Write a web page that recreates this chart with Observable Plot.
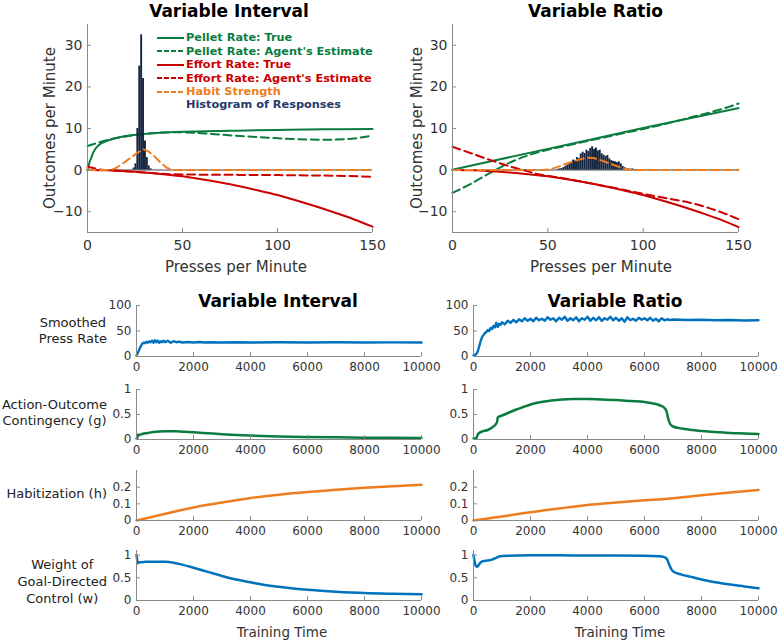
<!DOCTYPE html>
<html><head><meta charset="utf-8">
<script src="https://cdn.jsdelivr.net/npm/d3@7"></script>
<script src="https://cdn.jsdelivr.net/npm/@observablehq/plot@0.6"></script>
<style>
body{margin:0;background:#fff;}
#root{position:relative;width:779px;height:640px;font-family:"DejaVu Sans",sans-serif;overflow:hidden;background:#fff;}
.t{position:absolute;white-space:nowrap;}
.legrow{display:flex;align-items:center;height:13.46px;font-weight:bold;font-size:11.3px;white-space:nowrap;}
.legrow svg{margin-right:2px;}
</style></head>
<body><div id="root"></div>
<script>
// ---------- data: top panels (x = presses per minute, y = outcomes per minute) ----------
const viPelletTrue = [[0,0],[1,1.8],[2,3.0],[3,4.2],[5,5.6],[8,6.6],[12,7.3],[17,7.9],[22,8.3],[28,8.6],[35,8.85],[50,9.2],[75,9.45],[100,9.65],[125,9.8],[150,9.9]];
const viPelletEst = [[0,5.8],[5,6.5],[10,7.2],[15,7.7],[20,8.1],[28,8.6],[35,8.9],[45,9.1],[55,9.0],[65,8.7],[80,8.2],[95,7.8],[110,7.45],[125,7.3],[135,7.4],[142,7.7],[150,8.3]];
const viEffortTrue = [[0,0],[10,-0.05],[20,-0.25],[30,-0.55],[40,-1.0],[50,-1.5],[60,-2.2],[70,-3.0],[80,-3.9],[90,-4.9],[100,-6.0],[110,-7.3],[120,-8.7],[130,-10.2],[140,-11.8],[150,-13.6]];
const viEffortEst = [[0,0.8],[3,0.5],[6,0.2],[10,0.0],[20,-0.3],[30,-0.6],[45,-1.0],[60,-1.1],[80,-1.15],[100,-1.2],[120,-1.3],[135,-1.4],[150,-1.6]];
const viHabit = [[0,0],[12,0],[15,0.5],[18,1.4],[21,2.4],[24,3.4],[27,4.4],[29.5,5.0],[32,4.5],[35,3.4],[38,2.0],[41,0.8],[44,0.1],[46,0],[150,0]];
const viHistBins = [24,25,26,27,28,29,30,31,32,33];
const viHistCounts = [0.5,1.5,10,25,32.5,22,7,3,1,0.3];

const vrPelletTrue = [[0,0.1],[50,5.1],[100,10.1],[150,14.9]];
const vrPelletEst = [[0,-5.5],[10,-3.2],[20,-0.6],[30,1.8],[40,3.6],[50,4.9],[60,5.9],[75,7.4],[90,8.9],[100,9.9],[110,10.9],[125,12.7],[140,14.5],[150,16]];
const vrEffortTrue = [[0,0],[10,-0.05],[20,-0.25],[30,-0.55],[40,-1.0],[50,-1.5],[60,-2.2],[70,-3.0],[80,-3.9],[90,-4.9],[100,-6.0],[110,-7.3],[120,-8.7],[130,-10.2],[140,-11.8],[150,-13.7]];
const vrEffortEst = [[0,5.6],[10,4.0],[20,2.4],[30,0.9],[38,-0.1],[45,-1.0],[55,-1.7],[70,-3.0],[85,-4.3],[100,-5.7],[115,-7.0],[125,-7.9],[135,-9.2],[142,-10.3],[150,-11.8]];
const vrHabit = [[0,0],[48,0],[52,0.3],[56,0.9],[60,1.6],[64,2.2],[68,2.7],[71,3.0],[74,2.9],[77,2.5],[80,2.0],[83,1.5],[86,1.0],[89,0.5],[92,0.15],[95,0],[150,0]];
const vrHistBins = [55,56,57,58,59,60,61,62,63,64,65,66,67,68,69,70,71,72,73,74,75,76,77,78,79,80,81,82,83,84,85,86,87,88,89,90,91,92,93,94,95,96];
const vrHistCounts = [0.2,0.3,0.4,0.6,0.9,1.2,1.5,1.8,2.4,2.2,3.0,2.8,3.9,4.3,4.0,4.8,4.5,5.2,5.6,5.0,5.3,4.6,4.8,3.9,3.6,3.3,3.5,2.7,2.3,2.1,2.0,1.8,2.0,1.5,0.9,0.6,0.4,0.3,0.2,0.3,0.1,0.1];

// ---------- data: training time series ----------
const viPress = [[0,2],[30,5],[60,9],[100,14],[150,20],[200,25],[250,27],[300,26],[350,29],[400,27],[450,30],[500,28],[550,31],[600,27],[650,32],[700,28],[750,31],[800,27],[850,30],[900,28],[950,31],[1000,28],[1100,31],[1200,27],[1300,30],[1400,28],[1500,29],[1600,27.5],[1800,28.5],[2000,27.5],[2200,28.5],[2400,27.5],[2600,28],[3000,27.5],[3500,28],[4000,27.5],[5000,27.8],[6000,27.5],[7000,27.8],[8000,27.5],[9000,27.6],[10000,27.5]];
const vrPress = [[0,3],[50,3],[100,5],[150,10],[200,20],[250,30],[300,38],[350,42],[400,46],[450,48],[500,52],[550,50],[600,56],[650,54],[700,60],[750,57],[800,66],[850,58],[900,64],[950,62],[1000,67],[1100,63],[1200,70],[1300,66],[1400,72],[1500,67],[1600,73],[1700,69],[1800,75],[1900,70],[2000,74],[2100,69],[2200,76],[2300,71],[2400,74],[2500,70],[2600,77],[2700,72],[2800,75],[2900,69],[3000,76],[3100,72],[3200,78],[3300,70],[3400,75],[3500,71],[3600,77],[3700,69],[3800,75],[3900,72],[4000,78],[4100,70],[4200,76],[4300,71],[4400,77],[4500,70],[4600,75],[4700,72],[4800,78],[4900,71],[5000,76],[5100,70],[5200,75],[5300,68],[5400,77],[5500,71],[5600,74],[5700,70],[5800,76],[5900,72],[6000,75],[6100,71],[6200,76],[6300,70],[6400,74],[6500,69],[6600,75],[6700,71],[6800,73],[6900,71.5],[7000,72.5],[7500,71.5],[8000,72],[8500,71],[9000,71.5],[9500,70.5],[10000,71]];
const viG = [[0,0.02],[30,0.03],[50,0.1],[100,0.09],[200,0.11],[400,0.13],[600,0.15],[800,0.16],[1000,0.165],[1200,0.167],[1500,0.16],[2000,0.145],[2500,0.125],[3000,0.105],[3500,0.09],[4000,0.078],[5000,0.06],[6000,0.05],[7000,0.043],[8000,0.037],[9000,0.033],[10000,0.03]];
const vrG = [[0,0.02],[100,0.03],[150,0.1],[200,0.13],[300,0.16],[500,0.19],[650,0.24],[800,0.32],[830,0.36],[850,0.44],[1000,0.48],[1250,0.54],[1500,0.6],[1750,0.65],[2000,0.7],[2500,0.76],[3000,0.795],[3500,0.81],[4000,0.81],[4500,0.8],[5000,0.79],[5500,0.77],[6000,0.75],[6300,0.72],[6550,0.68],[6700,0.63],[6780,0.55],[6830,0.42],[6900,0.31],[7000,0.26],[7300,0.22],[7700,0.19],[8000,0.17],[8500,0.15],[9000,0.13],[9500,0.12],[10000,0.11]];
const viH = [[0,0],[500,0.02],[1000,0.04],[1500,0.06],[2000,0.078],[2500,0.094],[3000,0.108],[3500,0.122],[4000,0.135],[5000,0.155],[6000,0.171],[7000,0.184],[8000,0.196],[9000,0.206],[10000,0.215]];
const vrH = [[0,0],[500,0.012],[1000,0.024],[1500,0.037],[2000,0.05],[2500,0.061],[3000,0.072],[3500,0.083],[4000,0.093],[5000,0.108],[6000,0.121],[6800,0.13],[7000,0.133],[8000,0.151],[9000,0.168],[10000,0.183]];
const viW = [[0,1.0],[20,0.92],[40,0.82],[100,0.84],[300,0.85],[600,0.855],[1000,0.85],[1300,0.83],[1600,0.79],[2000,0.72],[2500,0.63],[3000,0.54],[3500,0.46],[4000,0.4],[4500,0.34],[5000,0.3],[5500,0.265],[6000,0.235],[7000,0.195],[8000,0.165],[9000,0.148],[10000,0.135]];
const vrW = [[0,1.0],[40,0.85],[80,0.76],[120,0.74],[170,0.77],[250,0.84],[350,0.87],[500,0.88],[650,0.9],[800,0.94],[900,0.97],[1200,0.985],[2000,0.995],[3000,0.995],[4000,0.99],[5000,0.99],[6000,0.985],[6500,0.975],[6700,0.955],[6800,0.9],[6870,0.78],[6950,0.68],[7050,0.62],[7300,0.57],[7700,0.51],[8000,0.46],[8500,0.4],[9000,0.35],[9500,0.31],[10000,0.27]];

// ---------- tick values ----------
const topXTicks = [0,50,100,150];
const topYTicks = [-10,0,10,20,30];
const timeTicks = [0,2000,4000,6000,8000,10000];
const pressTicks = [0,50,100];
const gTicks = [0,0.5,1];
const hTicks = [0,0.1,0.2];
const wTicks = [0,0.5,1];

// ---------- styles ----------
const GREEN = "#0b7c3f", RED = "#cc0000", ORANGE = "#ee7d20", BLUE = "#0072bd", NAVY = "#15243f";
const AX = "#8a8a8a", TXT = "#333";
const DASH = "8,4.5";
const root = document.getElementById("root");
const fmt = d => d < 0 ? "\u2212" + Math.abs(d) : String(d);

function panel({left, top, width, height, ml, mr, mt, mb, xDomain, yDomain, xTicks, yTicks, fontSize, xPad, marks}) {
  const innerW = width - ml - mr, innerH = height - mt - mb;
  const p = Plot.plot({
    width, height, marginLeft: ml, marginRight: mr, marginTop: mt, marginBottom: mb,
    x: {domain: xDomain}, y: {domain: yDomain},
    style: {fontFamily: "DejaVu Sans", fontSize: fontSize + "px", background: "transparent", overflow: "visible", color: TXT},
    marks: [
      ...marks,
      Plot.ruleX([xDomain[0]], {stroke: AX, strokeWidth: 1}),
      Plot.ruleY([yDomain[0]], {stroke: AX, strokeWidth: 1}),
      Plot.tickX(xTicks, {x: d => d, stroke: AX, insetTop: innerH - 4}),
      Plot.tickY(yTicks, {y: d => d, stroke: AX, insetRight: innerW - 4}),
      Plot.axisX(xTicks, {tickSize: 0, tickPadding: xPad, fontSize, fill: TXT, label: null, tickFormat: fmt}),
      Plot.axisY(yTicks, {tickSize: 0, tickPadding: 5, fontSize, fill: TXT, label: null, tickFormat: fmt})
    ]
  });
  p.style.position = "absolute"; p.style.left = left + "px"; p.style.top = top + "px";
  root.appendChild(p);
}
const L = (data, stroke, dashed, w = 2, curve = "monotone-x") =>
  Plot.line(data, {x: d => d[0], y: d => d[1], stroke, strokeWidth: w, strokeDasharray: dashed ? DASH : null, curve});
const hist = (bins, counts) =>
  Plot.rectY(bins.map((b, i) => ({b, c: counts[i]})), {x1: d => d.b, x2: d => d.b + 1, y: "c", fill: NAVY});

function ctext(str, cx, cy, css = "") {
  const d = document.createElement("div");
  d.className = "t";
  d.style.cssText = `left:${cx - 150}px;width:300px;top:${cy - 11}px;line-height:22px;text-align:center;${css}`;
  d.innerHTML = str; root.appendChild(d);
}
function rowLabel(html, topPx, lh = 16.5) {
  const d = document.createElement("div");
  d.className = "t";
  d.style.cssText = `right:672px;top:${topPx}px;line-height:${lh}px;text-align:center;font-size:13px;color:#222;`;
  d.innerHTML = html; root.appendChild(d);
}

// ---------- top panels ----------
const topCommon = {top: 0, height: 280, mt: 24, mb: 48, xDomain: [0,150], yDomain: [-15,35], xTicks: topXTicks, yTicks: topYTicks, fontSize: 14, xPad: 8};
function topMarks(pt, pe, et, ee, hb, hbBins, hbCounts) {
  return [
    Plot.ruleY([0], {x1: 0, x2: 150, stroke: "#a3a3a3", strokeWidth: 2}),
    L(pt, GREEN, false), L(pe, GREEN, true),
    L(et, RED, false), L(ee, RED, true),
    hist(hbBins, hbCounts),
    L(hb, ORANGE, true, 2, "linear")
  ];
}
panel({...topCommon, left: 0, width: 390, ml: 87, mr: 18,
  marks: topMarks(viPelletTrue, viPelletEst, viEffortTrue, viEffortEst, viHabit, viHistBins, viHistCounts)});
panel({...topCommon, left: 390, width: 389, ml: 62, mr: 41,
  marks: topMarks(vrPelletTrue, vrPelletEst, vrEffortTrue, vrEffortEst, vrHabit, vrHistBins, vrHistCounts)});

// ---------- bottom panels ----------
const cols = [
  {left: 0, width: 440, ml: 136, mr: 19, s: {press: viPress, g: viG, h: viH, w: viW}},
  {left: 440, width: 339, ml: 33, mr: 21, s: {press: vrPress, g: vrG, h: vrH, w: vrW}}
];
const rows = [
  {key: "press", top: 295, height: 85, mt: 10, mb: 24, yDomain: [0,100], yTicks: pressTicks, color: BLUE, curve: "linear", w: 2.4},
  {key: "g", top: 380, height: 80, mt: 9, mb: 21, yDomain: [0,1], yTicks: gTicks, color: GREEN, curve: "monotone-x", w: 2.5},
  {key: "h", top: 462, height: 78, mt: 8, mb: 20, yDomain: [0,0.3], yTicks: hTicks, color: ORANGE, curve: "monotone-x", w: 2.5},
  {key: "w", top: 540, height: 80, mt: 10, mb: 20, yDomain: [0,1.1], yTicks: wTicks, color: BLUE, curve: "monotone-x", w: 2.5}
];
for (const c of cols) for (const r of rows) {
  panel({left: c.left, width: c.width, ml: c.ml, mr: c.mr, top: r.top, height: r.height, mt: r.mt, mb: r.mb,
    xDomain: [0,10000], yDomain: r.yDomain, xTicks: timeTicks, yTicks: r.yTicks, fontSize: 12, xPad: 6,
    marks: [L(c.s[r.key], r.color, false, r.w, r.curve)]});
}

// ---------- text ----------
const TITLE = "font-weight:bold;font-size:17px;color:#000;";
ctext("Variable Interval", 229, 11, TITLE);
ctext("Variable Ratio", 595.5, 11, TITLE);
ctext("Variable Interval", 278, 300.5, TITLE);
ctext("Variable Ratio", 615, 300.5, TITLE);
const AXL = "font-size:15px;color:#333;";
ctext("Presses per Minute", 236, 267, AXL);
ctext("Presses per Minute", 601, 267, AXL);
ctext("Outcomes per Minute", 50, 127.5, AXL + "transform:rotate(-90deg);");
ctext("Outcomes per Minute", 417, 128, AXL + "transform:rotate(-90deg);");
ctext("Training Time", 282, 632, "font-size:13.5px;color:#333;");
ctext("Training Time", 620, 632, "font-size:13.5px;color:#333;");
rowLabel("Smoothed<br>Press Rate", 314.5);
rowLabel("Action-Outcome<br>Contingency (g)", 396.5);
rowLabel("Habitization (h)", 485.5);
rowLabel("Weight of<br>Goal-Directed<br>Control (w)", 555.5, 17);

// ---------- legend ----------
const legendItems = [
  {label: "Pellet Rate: True", color: GREEN, dashed: false, line: true},
  {label: "Pellet Rate: Agent's Estimate", color: GREEN, dashed: true, line: true},
  {label: "Effort Rate: True", color: RED, dashed: false, line: true},
  {label: "Effort Rate: Agent's Estimate", color: RED, dashed: true, line: true},
  {label: "Habit Strength", color: ORANGE, dashed: true, line: true},
  {label: "Histogram of Responses", color: "#243b6a", dashed: false, line: false}
];
const leg = document.createElement("div");
leg.className = "t"; leg.style.cssText = "left:157px;top:31px;";
for (const it of legendItems) {
  const row = document.createElement("div"); row.className = "legrow"; row.style.color = it.color;
  row.innerHTML = `<svg width="27" height="10">${it.line ? `<line x1="0" y1="5" x2="27" y2="5" stroke="${it.color}" stroke-width="2" ${it.dashed ? 'stroke-dasharray="5,2"' : ''}/>` : ''}</svg><span>${it.label}</span>`;
  leg.appendChild(row);
}
root.appendChild(leg);
</script>
</body></html>
